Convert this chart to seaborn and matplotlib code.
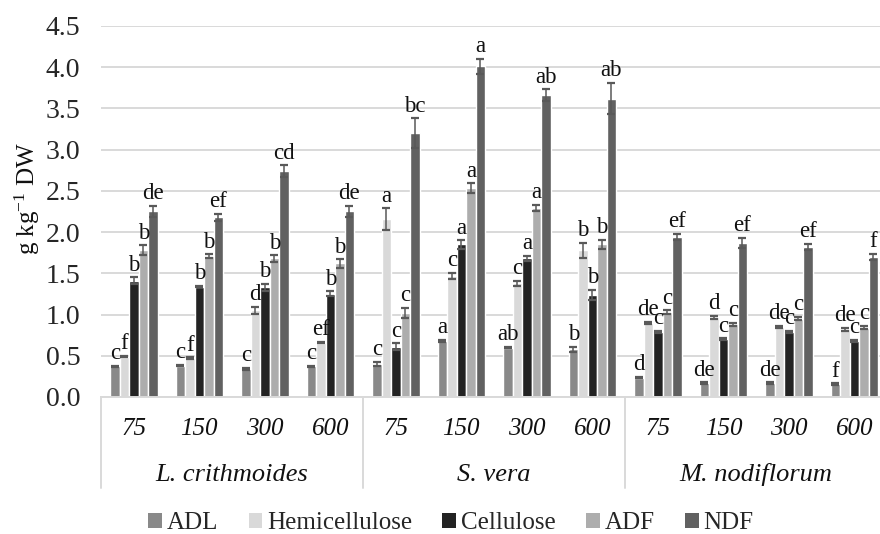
import numpy as np
import pandas as pd
import matplotlib
matplotlib.use("Agg")
import matplotlib.pyplot as plt
import matplotlib.transforms as mtransforms
from matplotlib.patches import Patch
import seaborn as sns

# ---------------- data ----------------
species = ["L. crithmoides", "S. vera", "M. nodiflorum"]
doses = ["75", "150", "300", "600"]
components = ["ADL", "Hemicellulose", "Cellulose", "ADF", "NDF"]

# values per component, ordered species x dose (12 entries)
adl = [0.37, 0.38, 0.34, 0.37, 0.40, 0.68, 0.60, 0.58, 0.235, 0.17, 0.17, 0.155]
hemi = [0.49, 0.47, 1.05, 0.66, 2.16, 1.47, 1.38, 1.78, 0.90, 0.965, 0.85, 0.82]
cell = [1.41, 1.34, 1.33, 1.25, 0.61, 1.85, 1.68, 1.24, 0.79, 0.70, 0.79, 0.68]
adf = [1.78, 1.71, 1.68, 1.62, 1.02, 2.53, 2.29, 1.85, 1.03, 0.88, 0.95, 0.84]
ndf = [2.25, 2.18, 2.74, 2.25, 3.20, 4.01, 3.66, 3.62, 1.94, 1.87, 1.82, 1.70]

adl_err = [0.01, 0.01, 0.01, 0.01, 0.03, 0.01, 0.01, 0.03, 0.01, 0.01, 0.01, 0.01]
hemi_err = [0.01, 0.01, 0.04, 0.01, 0.13, 0.04, 0.03, 0.09, 0.01, 0.02, 0.01, 0.02]
cell_err = [0.04, 0.01, 0.04, 0.03, 0.04, 0.05, 0.03, 0.06, 0.01, 0.01, 0.01, 0.01]
adf_err = [0.06, 0.02, 0.04, 0.05, 0.06, 0.06, 0.04, 0.06, 0.02, 0.02, 0.02, 0.02]
ndf_err = [0.07, 0.04, 0.07, 0.07, 0.18, 0.09, 0.07, 0.19, 0.04, 0.06, 0.04, 0.04]

adl_let = ["c", "c", "c", "c", "c", "a", "ab", "b", "d", "de", "de", "f"]
hemi_let = ["f", "f", "d", "ef", "a", "c", "c", "b", "de", "d", "de", "de"]
cell_let = ["b", "b", "b", "b", "c", "a", "a", "b", "c", "c", "c", "c"]
adf_let = ["b", "b", "b", "b", "c", "a", "a", "b", "c", "c", "c", "c"]
ndf_let = ["de", "ef", "cd", "de", "bc", "a", "ab", "ab", "ef", "ef", "ef", "f"]

colors = ["#898989", "#d9d9d9", "#232323", "#adadad", "#616161"]
yticks = [0.0, 0.5, 1.0, 1.5, 2.0, 2.5, 3.0, 3.5, 4.0, 4.5]

# ---------------- table ----------------
cats = [f"{s}|{d}" for s in species for d in doses]
vals = [adl, hemi, cell, adf, ndf]
errs = [adl_err, hemi_err, cell_err, adf_err, ndf_err]
lets = [adl_let, hemi_let, cell_let, adf_let, ndf_let]
rows = []
for comp, v in zip(components, vals):
    for c, val in zip(cats, v):
        rows.append({"cat": c, "component": comp, "value": val})
df = pd.DataFrame(rows)

# ---------------- style ----------------
sns.set_theme(style="white")
plt.rcParams["font.family"] = ["Liberation Serif", "DejaVu Serif"]
plt.rcParams["mathtext.fontset"] = "custom"
plt.rcParams["mathtext.rm"] = "Liberation Serif"
plt.rcParams["mathtext.it"] = "Liberation Serif:italic"

fig = plt.figure(figsize=(8.8, 5.34), dpi=100)
ax = fig.add_axes([101 / 880, (534 - 397) / 534, 779 / 880, 371 / 534])

sns.barplot(data=df, x="cat", y="value", hue="component", order=cats,
            hue_order=components, palette=colors, saturation=1,
            width=0.725, errorbar=None, legend=False, ax=ax)

err_color = "#595959"
for cont, e, lab in zip(ax.containers, errs, lets):
    xs = [b.get_x() + b.get_width() / 2 for b in cont]
    hs = [b.get_height() for b in cont]
    ax.errorbar(xs, hs, yerr=e, fmt="none", ecolor=err_color,
                elinewidth=1.1, capsize=3.2, capthick=1.6, zorder=3)
    for x, h, ee, t in zip(xs, hs, e, lab):
        ax.text(x, h + ee + 0.02, t, ha="center", va="bottom",
                fontsize=16.5, color="#111111", zorder=4)

ax.set_ylim(0, 4.5)
ax.set_xlim(-0.5, 11.39)
ax.set_yticks(yticks)
ax.set_yticklabels([f"{t:.1f}" for t in yticks], fontsize=20)
ax.tick_params(axis="y", length=0, pad=15)
ax.set_xticks([])
ax.set_xlabel("")
ax.set_ylabel("")
ax.yaxis.grid(True, color="#d9d9d9", linewidth=1.4)
ax.set_axisbelow(True)
for s in ["top", "right", "left"]:
    ax.spines[s].set_visible(False)
ax.spines["bottom"].set_color("#d9d9d9")
ax.spines["bottom"].set_linewidth(1.4)

trans = mtransforms.blended_transform_factory(ax.transData, ax.transAxes)
# dose labels
for i, c in enumerate(cats):
    ax.text(i, -0.086, c.split("|")[1], transform=trans, ha="center",
            va="center", fontsize=18, style="italic", color="#111111")
# species labels and separators
for k, s in enumerate(species):
    ax.text(4 * k + 1.5, -0.21, s, transform=trans, ha="center",
            va="center", fontsize=19, style="italic", color="#111111")
    ax.plot([4 * k - 0.5, 4 * k - 0.5], [0, -0.245], transform=trans,
            color="#d9d9d9", lw=1.4, clip_on=False)

fig.text(27 / 880, 1 - 198 / 534, r"g kg$^{-1}$ DW", rotation=90,
         ha="center", va="center", fontsize=18, color="#111111")

handles = [Patch(facecolor=c, edgecolor="none", label=l)
           for c, l in zip(colors, components)]
fig.legend(handles=handles, loc="center", ncol=5,
           bbox_to_anchor=(451 / 880, 1 - 523 / 534), frameon=False,
           fontsize=18, handlelength=0.55, handleheight=0.55,
           handletextpad=0.2, columnspacing=1.2, borderaxespad=0)

fig.savefig("out.png", dpi=100)
